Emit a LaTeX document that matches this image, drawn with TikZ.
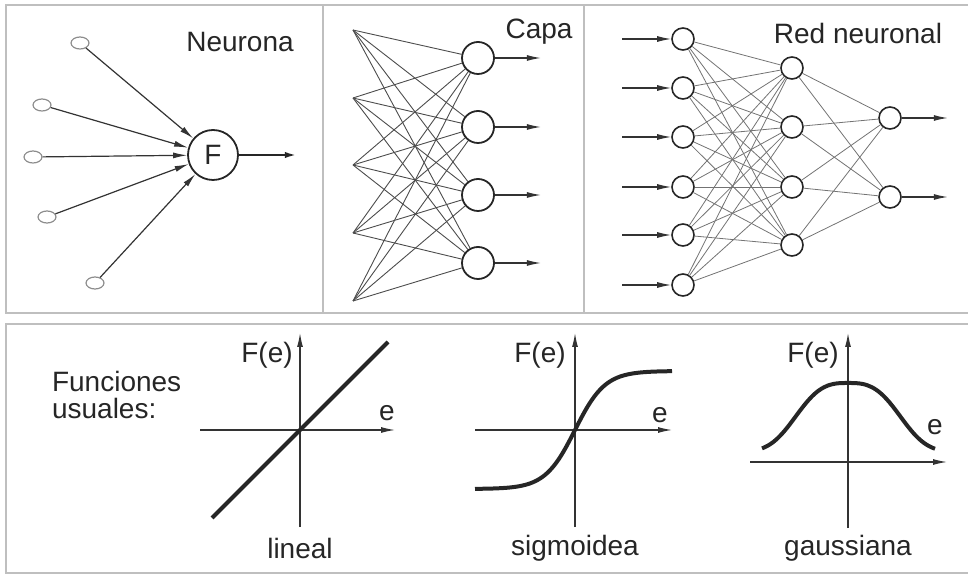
\documentclass[tikz,border=0pt]{standalone}
\usepackage{fontspec}
\setmainfont{Liberation Sans}
\usetikzlibrary{positioning,arrows.meta,shapes.geometric}

\begin{document}
\begin{tikzpicture}[x=0.5pt,y=-0.5pt,>={Latex[length=7pt,width=3pt]},
  every node/.style={font=\fontsize{14}{16}\selectfont,text=black!85},
  marco/.style={draw=black!25,line width=0.8pt},
  entrada/.style={ellipse,draw=black!45,line width=0.6pt,minimum width=9pt,minimum height=6pt,inner sep=0pt},
  neuf/.style={circle,draw=black!85,line width=0.9pt,minimum size=25pt,inner sep=0pt},
  capaneu/.style={circle,draw=black!85,line width=0.9pt,minimum size=16pt,inner sep=0pt},
  redneu/.style={circle,draw=black!85,line width=0.8pt,minimum size=11pt,inner sep=0pt},
  enlace/.style={draw=black!70,line width=0.45pt},
  enlacered/.style={draw=black!55,line width=0.4pt},
  flecha/.style={->,draw=black!80,line width=0.6pt},
  eje/.style={->,draw=black!80,line width=0.6pt},
  curva/.style={draw=black!85,line width=2pt}]
  \useasboundingbox (0,0) rectangle (968,576);
  % 枠
  \draw[marco] (968,5) -- (6,5) -- (6,313) -- (968,313);
  \draw[marco] (323,5) -- (323,313);
  \draw[marco] (584,5) -- (584,313);
  \draw[marco] (968,324) -- (6,324) -- (6,573) -- (968,573);

  % ニューロン
  \node[neuf] (F) at (213,155) {F};
  \node at (240,42) {Neurona};
  \foreach \x/\y [count=\i] in {80/43,42/105,33/157,47/217,95/283}
    \node[entrada] (in\i) at (\x,\y) {};
  \foreach \i in {1,...,5}
    \draw[flecha] (in\i) -- (F);
  \coordinate[right=30pt of F] (Fs);
  \draw[->,line width=1.3pt,draw=black!85] (F) -- (Fs);

  % 層
  \node at (539,32) {Capa};
  \foreach \y [count=\i] in {30,98,165,233,301}
    \coordinate (c\i) at (353,\y);
  \foreach \y [count=\j] in {58,127,195,263}
    \node[capaneu] (k\j) at (478,\y) {};
  \foreach \i in {1,...,5}
    \foreach \j in {1,...,4}
      \draw[enlace] (c\i) -- (k\j);
  \foreach \j in {1,...,4} {
    \coordinate[right=23pt of k\j] (ks\j);
    \draw[flecha] (k\j) -- (ks\j);
  }

  % ネットワーク
  \node at (858,33) {Red neuronal};
  \foreach \y [count=\i] in {39,88,137,187,235,285}
    \node[redneu] (r\i) at (683,\y) {};
  \foreach \y [count=\j] in {68,127,187,245}
    \node[redneu] (h\j) at (792,\y) {};
  \foreach \y [count=\k] in {118,197}
    \node[redneu] (o\k) at (890,\y) {};
  \foreach \i in {1,...,6}
    \foreach \j in {1,...,4}
      \draw[enlacered] (r\i) -- (h\j);
  \foreach \j in {1,...,4}
    \foreach \k in {1,2}
      \draw[enlacered] (h\j) -- (o\k);
  \foreach \i in {1,...,6} {
    \coordinate[left=24.5pt of r\i] (re\i);
    \draw[flecha] (re\i) -- (r\i);
  }
  \foreach \k in {1,2} {
    \coordinate[right=23pt of o\k] (os\k);
    \draw[flecha] (o\k) -- (os\k);
  }

  % 関数
  \node[anchor=west,align=left,font=\fontsize{14}{13.5}\selectfont] (fun) at (45,395) {Funciones\\usuales:};

  % 線形
  \begin{scope}[shift={(300,430)}]
    \draw[eje] (0,97) -- (0,-97);
    \draw[eje] (-100,0) -- (95,0);
    \draw[curva] (-88,88) -- (88,-88);
    \node (fe1) at (-33,-75) {F(e)};
    \node (e1) at (87,-17) {e};
    \node (lin) at (0,118) {lineal};
  \end{scope}

  % シグモイド
  \begin{scope}[shift={(575,430)}]
    \draw[eje] (0,97) -- (0,-97);
    \draw[eje] (-100,0) -- (97,0);
    \draw[curva] plot[domain=-100:97,samples=80,smooth] (\x,{-59*tanh(\x/30)});
    \node (fe2) at (-35,-75) {F(e)};
    \node (e2) at (85,-15) {e};
    \node (sig) at (0,118) {sigmoidea};
  \end{scope}

  % ガウス
  \begin{scope}[shift={(848,462)}]
    \draw[eje] (0,66) -- (0,-129);
    \draw[eje] (-98,0) -- (99,0);
    \draw[curva] plot[domain=-86:87,samples=80,smooth] (\x,{-10-69*exp(-(\x*\x/3600)^1.5)});
    \node (fe3) at (-35,-107) {F(e)};
    \node (e3) at (87,-35) {e};
    \node (gau) at (0,86) {gaussiana};
  \end{scope}
\end{tikzpicture}
\end{document}
